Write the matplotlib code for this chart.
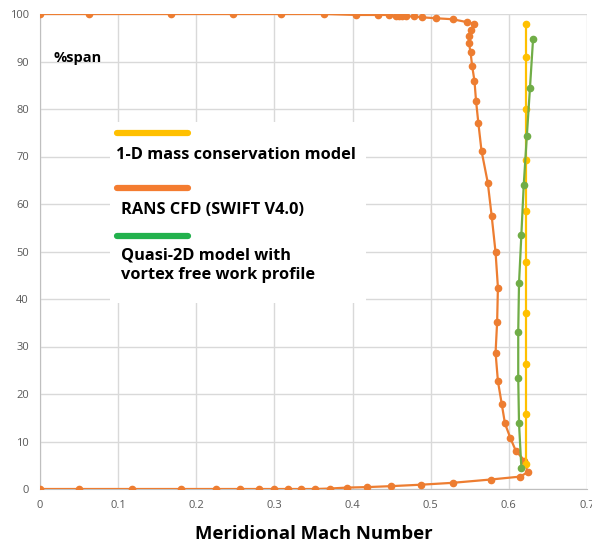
import matplotlib.pyplot as plt
import numpy as np

# Datos
rans_mach = [0.0, 0.063, 0.168, 0.247, 0.308, 0.363, 0.405, 0.433, 0.446, 0.455, 0.459,
             0.463, 0.469, 0.478, 0.489, 0.507, 0.528, 0.546, 0.556, 0.551, 0.549, 0.549,
             0.551, 0.553, 0.556, 0.558, 0.561, 0.565, 0.573, 0.578, 0.583, 0.586, 0.585,
             0.583, 0.586, 0.591, 0.595, 0.602, 0.609, 0.620, 0.624, 0.614, 0.577, 0.528,
             0.487, 0.449, 0.419, 0.393, 0.371, 0.352, 0.334, 0.317, 0.300, 0.280, 0.256,
             0.225, 0.181, 0.118, 0.050, 0.0]
rans_span = [100.0, 100.0, 100.0, 100.0, 100.0, 100.0, 99.8, 99.8, 99.8, 99.6, 99.6,
             99.6, 99.5, 99.5, 99.3, 99.1, 98.9, 98.3, 97.9, 96.6, 95.4, 93.8,
             91.9, 89.1, 85.9, 81.7, 77.0, 71.2, 64.5, 57.5, 49.8, 42.4, 35.2,
             28.7, 22.7, 17.8, 13.8, 10.7, 8.0, 6.0, 3.5, 2.6, 2.0, 1.3,
             0.9, 0.6, 0.4, 0.3, 0.1, 0.0, 0.0, 0.0, 0.0, 0.0, 0.0,
             0.0, 0.0, 0.0, 0.0, 0.0]

mass_mach = [0.622, 0.622, 0.622, 0.622, 0.622, 0.622, 0.622, 0.622, 0.622, 0.622]
mass_span = [5.2, 15.7, 26.3, 37.0, 47.7, 58.5, 69.3, 80.0, 91.0, 98.0]

q2d_mach = [0.616, 0.613, 0.612, 0.612, 0.613, 0.616, 0.619, 0.623, 0.627, 0.631]
q2d_span = [4.5, 13.8, 23.3, 33.1, 43.3, 53.5, 63.9, 74.3, 84.4, 94.8]

x_ticks = [0, 0.1, 0.2, 0.3, 0.4, 0.5, 0.6, 0.7]
x_tick_labels = ['0', '0.1', '0.2', '0.3', '0.4', '0.5', '0.6', '0.7']
y_ticks = [0, 10, 20, 30, 40, 50, 60, 70, 80, 90, 100]

legend_labels = ['1-D mass conservation model', 'RANS CFD (SWIFT V4.0)',
                 'Quasi-2D model with\nvortex free work profile']

plt.rcParams['font.family'] = ['Open Sans', 'DejaVu Sans']

fig = plt.figure(figsize=(5.92, 5.46), dpi=100)
ax = fig.add_axes([40 / 592, 1 - 489 / 546, 547 / 592, 475 / 546])

orange = '#ED7D31'
yellow = '#FFC000'
green = '#70AD47'

ax.plot(rans_mach, rans_span, color=orange, lw=1.6, marker='o', ms=4.5, zorder=3)
ax.plot(mass_mach, mass_span, color=yellow, lw=1.6, marker='o', ms=4.5, zorder=4)
ax.plot(q2d_mach, q2d_span, color=green, lw=1.6, marker='o', ms=4.5, zorder=5)

ax.set_xlim(0, 0.7)
ax.set_ylim(0, 100)
ax.set_xticks(x_ticks)
ax.set_xticklabels(x_tick_labels)
ax.set_yticks(y_ticks)
ax.tick_params(length=0, labelsize=8, colors='#595959', pad=8)
ax.grid(True, color='#D9D9D9', lw=1)
ax.set_axisbelow(True)
for s in ['top', 'right']:
    ax.spines[s].set_visible(False)
for s in ['left', 'bottom']:
    ax.spines[s].set_color('#BFBFBF')

ax.set_xlabel('Meridional Mach Number', fontsize=13.3, fontweight='bold', labelpad=10)

fig.text(54 / 592, 1 - 58 / 546, '%span', fontsize=10.5, fontweight='bold', va='center')

# Leyenda manual (caja blanca)
box = plt.Rectangle((110 / 592, 1 - 303 / 546), 256 / 592, 181 / 546,
                    transform=fig.transFigure, facecolor='white', edgecolor='none', zorder=6)
fig.add_artist(box)
leg_colors = ['#FFC000', '#F47C30', '#22B14C']
line_y = [133, 188, 236]
text_y = [155, 210, 265]
text_x = [116, 121, 121]
for c, ly, ty, tx, lab in zip(leg_colors, line_y, text_y, text_x, legend_labels):
    fig.add_artist(plt.Line2D([117 / 592, 188 / 592], [1 - ly / 546, 1 - ly / 546],
                              color=c, lw=4.5, solid_capstyle='round', zorder=7))
    fig.text(tx / 592, 1 - ty / 546, lab, fontsize=11.8, fontweight='bold',
             va='center', ha='left', linespacing=1.3, zorder=8)

plt.savefig('out.png', dpi=100)
